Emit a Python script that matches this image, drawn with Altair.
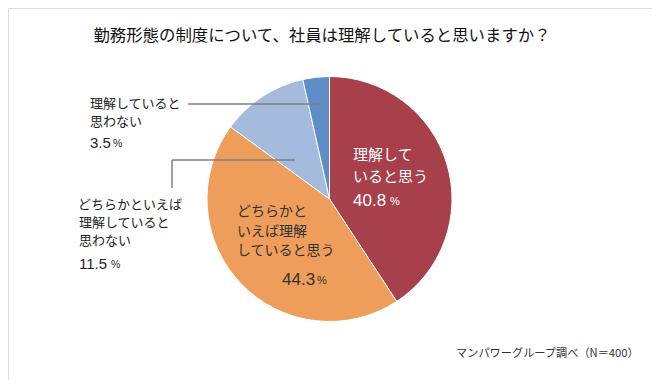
import altair as alt
import pandas as pd

# ---- data ----
categories = ["理解していると思う", "どちらかといえば理解していると思う",
              "どちらかといえば理解していると思わない", "理解していると思わない"]
values = [40.8, 44.3, 11.5, 3.5]
order_idx = [0, 1, 2, 3]
colors = ["#A8404C", "#EE9D5A", "#A4BBDE", "#5F8DC8"]
title_text = "勤務形態の制度について、社員は理解していると思いますか？"
source_text = "マンパワーグループ調べ（N＝400）"
label_red = ["理解して", "いると思う"]
label_orange = ["どちらかと", "いえば理解", "していると思う"]
label_blue = ["理解していると", "思わない"]
label_lblue = ["どちらかといえば", "理解していると", "思わない"]
pct_text = [f"{v:.1f}" for v in values]

FONT = "Noto Sans CJK JP"
NUMFONT = "Liberation Sans"
W, H = 644, 372
OFF = 8  # page margin

df = pd.DataFrame({"cat": categories, "value": values, "order": order_idx})

pie = alt.Chart(df).mark_arc(outerRadius=122.5, stroke="white", strokeWidth=1).encode(
    theta=alt.Theta("value:Q", stack=True),
    order=alt.Order("order:Q"),
    color=alt.Color("cat:N", scale=alt.Scale(domain=categories, range=colors), legend=None),
    x=alt.value(329.5 - OFF),
    y=alt.value(199 - OFF),
)


def txt(s, x, y, size, color="#222222", align="left", font=FONT):
    return alt.Chart(pd.DataFrame({"t": [s]})).mark_text(
        align=align, baseline="middle", fontSize=size, color=color, font=font
    ).encode(x=alt.value(x - OFF), y=alt.value(y - OFF), text="t:N")


def rule(x1, x2, y1, y2):
    return alt.Chart(pd.DataFrame({"a": [0]})).mark_rule(
        color="#808080", strokeWidth=1.5
    ).encode(x=alt.value(x1 - OFF), x2=alt.value(x2 - OFF),
             y=alt.value(y1 - OFF), y2=alt.value(y2 - OFF))


layers = [pie]
layers.append(txt(title_text, 322, 36, 16.4, "#111111", "center"))
layers.append(txt(source_text, 456, 354, 11.2, "#333333", "left"))

# red slice
layers.append(txt(label_red[0], 353, 155, 15, "white"))
layers.append(txt(label_red[1], 353, 177, 15, "white"))
layers.append(txt(pct_text[0], 353, 201, 17, "white", font=NUMFONT))
layers.append(txt("%", 390, 202, 11, "white", font=NUMFONT))

# orange slice
layers.append(txt(label_orange[0], 237, 212, 14, "#333333"))
layers.append(txt(label_orange[1], 237, 232, 14, "#333333"))
layers.append(txt(label_orange[2], 237, 251, 14, "#333333"))
layers.append(txt(pct_text[1], 282, 280, 17, "#333333", font=NUMFONT))
layers.append(txt("%", 317, 281, 11, "#333333", font=NUMFONT))

# outer: 3.5
layers.append(txt(label_blue[0], 90, 104, 13))
layers.append(txt(label_blue[1], 90, 122, 13))
layers.append(txt(pct_text[3], 90, 143, 15, font=NUMFONT))
layers.append(txt("%", 113, 144, 10.5, font=NUMFONT))

# outer: 11.5
layers.append(txt(label_lblue[0], 78, 205, 13))
layers.append(txt(label_lblue[1], 79, 223, 13))
layers.append(txt(label_lblue[2], 79, 241, 13))
layers.append(txt(pct_text[2], 79, 264, 15, font=NUMFONT))
layers.append(txt("%", 111, 265, 10.5, font=NUMFONT))

# leader lines
layers.append(rule(188, 322, 104, 104))
layers.append(rule(172, 172, 160, 188))
layers.append(rule(172, 295, 160, 160))

chart = alt.layer(*layers).properties(
    width=W, height=H, autosize=alt.AutoSizeParams(type="none"), padding=0
).configure_view(stroke=None).configure(background="white")

chart.save("out.html", embed_options={"renderer": "svg", "actions": False})
